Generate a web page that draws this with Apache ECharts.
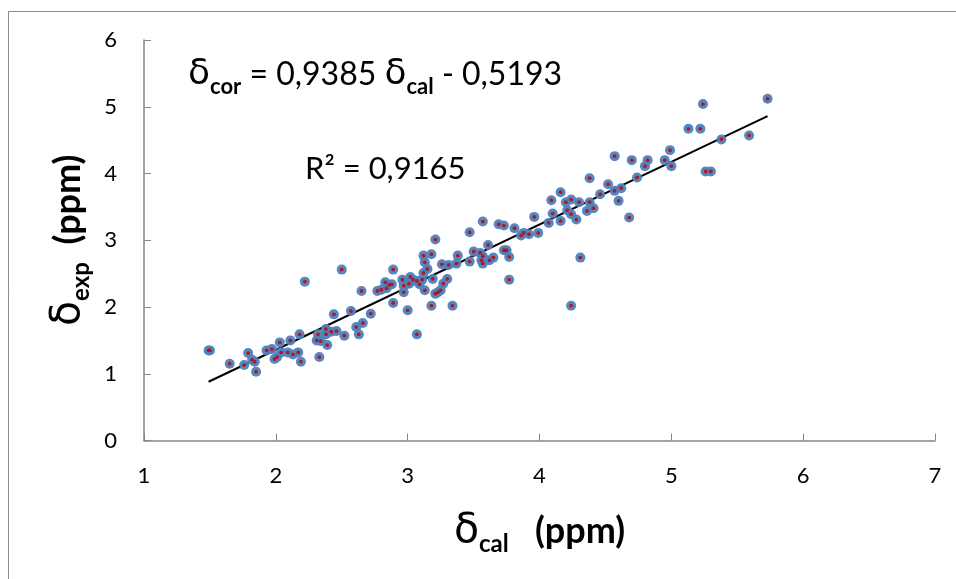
<!DOCTYPE html>
<html>
<head>
<meta charset="utf-8">
<script src="https://cdn.jsdelivr.net/npm/echarts@6/dist/echarts.min.js"></script>
<style>
html,body{margin:0;padding:0;background:#fff;}
#chart{width:956px;height:579px;}
</style>
</head>
<body>
<div id="chart"></div>
<script>
// δcal values (x) and δexp values (y)
const calValues = [
1.49,1.50,1.65,1.76,1.79,1.82,1.84,1.85,1.93,1.97,
1.99,2.01,2.03,2.04,2.09,2.11,2.13,2.17,2.18,2.19,
2.22,2.31,2.32,2.33,2.34,2.38,2.38,2.39,2.42,2.44,
2.46,2.50,2.52,2.57,2.61,2.63,2.65,2.66,2.72,2.77,
2.80,2.83,2.84,2.86,2.88,2.89,2.89,2.96,2.97,2.97,
3.00,3.01,3.02,3.04,3.07,3.09,3.11,3.12,3.12,3.13,
3.13,3.15,3.18,3.18,3.19,3.21,3.21,3.25,3.26,3.27,
3.30,3.31,3.34,3.37,3.38,3.07,3.23,3.47,3.47,3.50,
3.55,3.56,3.57,3.57,3.57,3.61,3.62,3.65,3.69,3.73,
3.73,3.75,3.77,3.77,3.81,3.86,3.88,3.92,3.96,3.99,
4.07,4.09,4.10,4.16,4.16,4.20,4.21,4.24,4.24,4.28,
4.30,4.31,4.24,4.36,4.38,4.38,4.41,4.46,4.52,4.57,
4.57,4.60,4.62,4.68,4.70,4.74,4.80,4.82,4.95,4.99,
5.00,5.13,5.22,5.24,5.26,5.30,5.38,5.59,5.73
];
const expValues = [
1.35,1.35,1.15,1.13,1.31,1.21,1.18,1.03,1.35,1.37,
1.22,1.25,1.47,1.32,1.32,1.50,1.29,1.32,1.59,1.18,
2.38,1.50,1.59,1.25,1.49,1.67,1.59,1.43,1.63,1.89,
1.64,2.56,1.57,1.94,1.70,1.59,2.24,1.76,1.90,2.24,
2.26,2.37,2.28,2.33,2.34,2.56,2.06,2.41,2.32,2.22,
1.95,2.35,2.45,2.41,2.39,2.34,2.41,2.51,2.77,2.67,
2.25,2.57,2.79,2.02,2.42,3.01,2.20,2.25,2.64,2.35,
2.42,2.63,2.02,2.65,2.77,1.59,2.22,3.12,2.68,2.83,
2.81,2.70,2.65,2.76,3.28,2.93,2.70,2.74,3.24,3.22,
2.85,2.85,2.75,2.41,3.18,3.07,3.11,3.09,3.35,3.11,
3.26,3.60,3.40,3.72,3.29,3.57,3.45,3.61,3.39,3.31,
3.57,2.74,2.02,3.44,3.93,3.57,3.48,3.69,3.84,3.74,
4.26,3.59,3.78,3.34,4.20,3.94,4.11,4.20,4.20,4.35,
4.11,4.67,4.67,5.04,4.03,4.03,4.51,4.57,5.12
];
// trend line end points (δcor = 0,9385 δcal - 0,5193)
const trendX = [1.49, 5.73];
const trendY = [0.88, 4.86];
// axis ticks
const xTicks = [1,2,3,4,5,6,7];
const yTicks = [0,1,2,3,4,5,6];

const points = calValues.map((v,i)=>[v, expValues[i]]);
const trend = trendX.map((v,i)=>[v, trendY[i]]);

const chart = echarts.init(document.getElementById('chart'), null, {renderer:'canvas'});
const axisColor = '#868686';
const font = 'Lato, "Open Sans", sans-serif';
const greek = '"DejaVu Sans", sans-serif';
const titleRich = {
  d:{fontSize:41, fontFamily:greek, color:'#000', verticalAlign:'middle', lineHeight:50},
  s:{fontSize:24, fontWeight:'bold', fontFamily:font, color:'#000', verticalAlign:'bottom', lineHeight:50, padding:[17,0,0,0]},
  t:{fontSize:36, fontWeight:'bold', fontFamily:font, color:'#000', verticalAlign:'middle', lineHeight:50}
};
chart.setOption({
  animation:false,
  backgroundColor:'#fff',
  grid:{left:144, right:21, top:40, bottom:138.5, containLabel:false},
  xAxis:{
    type:'value', min:xTicks[0], max:xTicks[xTicks.length-1], interval:1,
    axisLine:{show:true, onZero:false, lineStyle:{color:axisColor, width:1.5}},
    axisTick:{show:true, inside:true, length:7, lineStyle:{color:axisColor, width:1}},
    splitLine:{show:false},
    axisLabel:{color:'#000', fontSize:22, fontFamily:font, margin:24},
    name:'{d|δ}{s|cal}{t|   (ppm)}',
    nameLocation:'middle', nameGap:66,
    nameTextStyle:{rich:titleRich}
  },
  yAxis:{
    type:'value', min:yTicks[0], max:yTicks[yTicks.length-1], interval:1,
    axisLine:{show:true, onZero:false, lineStyle:{color:axisColor, width:1.5}},
    axisTick:{show:true, inside:true, length:7, lineStyle:{color:axisColor, width:1}},
    splitLine:{show:false},
    axisLabel:{color:'#000', fontSize:22, fontFamily:font, margin:27},
    name:'{d|δ}{s|exp}{t|  (ppm)}',
    nameLocation:'middle', nameGap:40, nameRotate:90,
    nameTextStyle:{rich:titleRich}
  },
  series:[
    {type:'line', data:trend, symbol:'none', lineStyle:{color:'#000', width:2}, z:3, silent:true},
    {type:'scatter', data:points, symbol:'circle', symbolSize:10,
     itemStyle:{color:'#4f81bd', opacity:0.95}, z:4},
    {type:'scatter', data:points, symbol:'circle', symbolSize:3.8,
     itemStyle:{color:'#c00000'}, z:5}
  ],
  graphic:[
    {type:'rect', shape:{x:8.5, y:11.5, width:1000, height:700}, style:{fill:null, stroke:'#8c8c8c', lineWidth:1}, z:-1, silent:true},
    {type:'text', left:188, top:57, style:{
      text:'{d|δ}{s|cor}{t| = 0,9385 }{d|δ}{s|cal}{t| - 0,5193}',
      rich:{
        d:{fontSize:36, fontFamily:greek, fill:'#000', verticalAlign:'middle', lineHeight:46},
        s:{fontSize:22, fontWeight:'bold', fontFamily:font, fill:'#000', verticalAlign:'bottom', lineHeight:46, padding:[15,0,0,0]},
        t:{fontSize:32, fontFamily:font, fill:'#000', verticalAlign:'middle', lineHeight:46}
      }
    }},
    {type:'text', left:305, top:153, style:{
      text:'R² = 0,9165', font:'31px Lato, "Open Sans", sans-serif', fill:'#000'
    }}
  ]
});
</script>
</body>
</html>
